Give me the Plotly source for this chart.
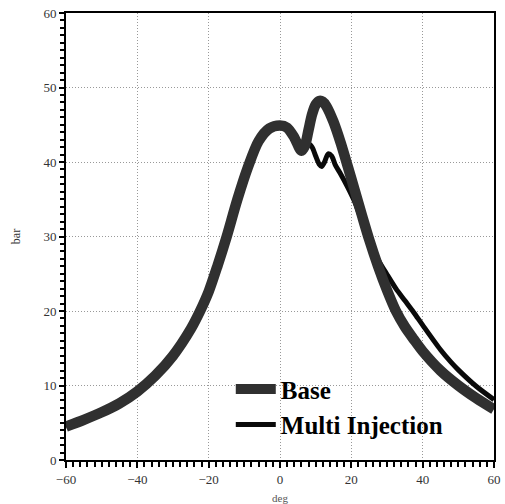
import plotly.graph_objects as go

# Crank angle (deg) and pressure (bar)
base_deg = [-60, -55, -50, -45, -40, -35, -30, -25, -22.5, -20, -17.5, -15, -12, -9, -6, -3, 0, 2, 4, 6,
            7, 8, 9, 10, 11, 12, 13, 15, 17, 19, 21, 23, 25, 27.5, 30, 32.5, 35, 37.5, 40,
            45, 50, 55, 60]
base_bar = [4.5, 5.4, 6.4, 7.6, 9.2, 11.3, 14.0, 17.6, 19.9, 22.6, 26.1, 29.9, 34.9, 39.3, 42.8, 44.5, 44.9, 44.6, 43.3, 41.5,
            42.2, 44.3, 46.4, 47.7, 48.2, 48.1, 47.5, 45.4, 42.6, 39.4, 36.1, 32.8, 29.6, 26.0, 22.8, 20.0, 17.9, 16.2, 14.6,
            12.0, 10.0, 8.3, 6.8]

multi_deg = [-60, -55, -50, -45, -40, -35, -30, -25, -22.5, -20, -17.5, -15, -12, -9, -6, -3, 0, 2, 4, 6,
             7, 8, 9, 10, 11, 11.7, 12.5, 13.5, 14.5, 15.5, 17, 19, 21, 23, 25, 27.5, 30, 32.5, 35,
             37.5, 40, 45, 48, 50, 55, 60]
multi_bar = [4.5, 5.4, 6.4, 7.6, 9.2, 11.3, 14.0, 17.6, 19.9, 22.6, 26.1, 29.9, 34.9, 39.3, 42.8, 44.5, 44.9, 44.6, 43.3, 41.5,
             41.9, 42.4, 42.0, 40.8, 39.7, 39.4, 40.0, 41.1, 40.8, 39.6, 38.4, 36.6, 34.6, 32.0, 29.4, 26.9, 24.9, 23.0, 21.4,
             19.8, 18.1, 14.8, 13.1, 12.1, 9.9, 8.1]

x_ticks = [-60, -40, -20, 0, 20, 40, 60]
y_ticks = [0, 10, 20, 30, 40, 50, 60]

fig = go.Figure()
fig.add_trace(go.Scatter(x=multi_deg, y=multi_bar, mode="lines", name="Multi Injection",
                         line=dict(color="#0a0a0a", width=5, shape="spline", smoothing=0.8)))
fig.add_trace(go.Scatter(x=base_deg, y=base_bar, mode="lines", name="Base",
                         line=dict(color="#303030", width=10.5, shape="spline", smoothing=0.8)))

axis_font = dict(family="Liberation Serif", size=13, color="#333")
fig.update_layout(
    width=505, height=504,
    margin=dict(l=66, r=11, t=13, b=44),
    paper_bgcolor="white", plot_bgcolor="white",
    showlegend=True,
    legend=dict(x=0.385, y=0.21, xanchor="left", yanchor="top", traceorder="reversed",
                font=dict(family="Liberation Serif", size=25, color="#000", weight="bold"),
                bgcolor="rgba(0,0,0,0)", itemwidth=40, tracegroupgap=0),
    xaxis=dict(range=[-60, 60], tickvals=x_ticks, ticks="outside", ticklen=6, tickwidth=1.5,
               tickcolor="#000", showline=True, linecolor="#000", linewidth=2, mirror=True,
               showgrid=True, gridcolor="#999", griddash="1px,2px", gridwidth=1, zeroline=False,
               tickfont=axis_font, automargin=False,
               minor=dict(dtick=2, ticks="outside", ticklen=5, tickcolor="#000", showgrid=False),
               title=dict(text="deg", font=dict(family="Liberation Serif", size=11, color="#555"), standoff=12)),
    yaxis=dict(range=[0, 60], tickvals=y_ticks, ticks="outside", ticklen=5, tickwidth=1.5,
               tickcolor="#000", showline=True, linecolor="#000", linewidth=2, mirror=True,
               showgrid=True, gridcolor="#999", griddash="1px,2px", gridwidth=1, zeroline=False,
               tickfont=axis_font, automargin=False,
               minor=dict(dtick=1, ticks="outside", ticklen=4, tickcolor="#000", showgrid=False),
               title=dict(text="bar", font=dict(family="Liberation Serif", size=12, color="#333"), standoff=20)),
)

fig.write_html("out.html")
